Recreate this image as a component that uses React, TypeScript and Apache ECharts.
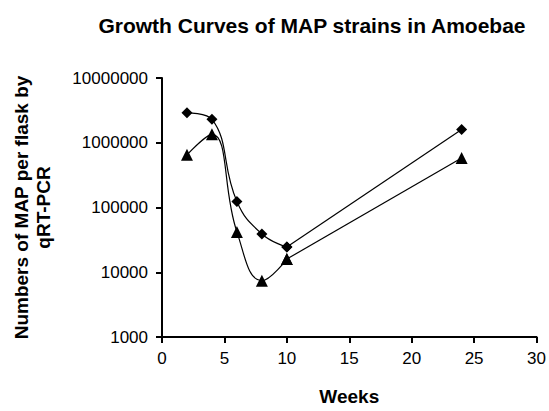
import React, { useEffect, useRef } from "react";
import * as echarts from "echarts";

const weeks = [2, 4, 6, 8, 10, 24];
const diamondSeries = [2900000, 2300000, 124000, 39000, 24500, 1600000];
const triangleSeries = [650000, 1350000, 42000, 7400, 16000, 580000];
const title = "Growth Curves of MAP strains in Amoebae";
const yName = "Numbers of MAP per flask by\nqRT-PCR";
const xName = "Weeks";
// the smoothed part of each curve ends at this index; the rest is a straight line
const smoothEnd = 4;

const FONT = "'Liberation Sans', Arial, sans-serif";

export default function App() {
  const ref = useRef<HTMLDivElement>(null);
  useEffect(() => {
    if (!ref.current) return;
    const chart = echarts.init(ref.current, null, { renderer: "svg" });
    const mk = (vals: number[]) => weeks.map((w, i) => [w, vals[i]]);
    const pair = (vals: number[], symbol: string, size: number) => {
      const d = mk(vals);
      return [
        {
          type: "line",
          data: d.slice(0, smoothEnd + 1),
          smooth: 0.45,
          smoothConstraint: false,
          symbol,
          symbolSize: size,
          itemStyle: { color: "#000" },
          lineStyle: { color: "#000", width: 1.2 },
          z: 3,
        },
        {
          type: "line",
          data: d.slice(smoothEnd),
          smooth: false,
          symbol,
          symbolSize: size,
          itemStyle: { color: "#000" },
          lineStyle: { color: "#000", width: 1.2 },
          z: 2,
        },
      ];
    };
    chart.setOption({
      animation: false,
      backgroundColor: "#fff",
      title: {
        text: title,
        left: 307,
        textAlign: "center",
        top: 10,
        textStyle: { fontFamily: FONT, fontWeight: "bold", fontSize: 21, color: "#000" },
      },
      grid: { left: 162, right: 11, top: 78, bottom: 70, containLabel: false },
      xAxis: {
        type: "value",
        min: 0,
        max: 30,
        interval: 5,
        name: xName,
        nameLocation: "middle",
        nameGap: 50,
        nameTextStyle: { fontFamily: FONT, fontWeight: "bold", fontSize: 19, color: "#000" },
        axisLine: { lineStyle: { color: "#000", width: 2 } },
        axisTick: { show: true, length: 6, lineStyle: { color: "#000", width: 2 }, inside: false },
        axisLabel: { fontFamily: FONT, fontSize: 17, color: "#000", margin: 13 },
        splitLine: { show: false },
      },
      yAxis: {
        type: "log",
        logBase: 10,
        min: 1000,
        max: 10000000,
        name: yName,
        nameLocation: "middle",
        nameGap: 108,
        nameTextStyle: { fontFamily: FONT, fontWeight: "bold", fontSize: 19, color: "#000", lineHeight: 22 },
        axisLine: { show: true, lineStyle: { color: "#000", width: 2 } },
        axisTick: { show: true, length: 6, lineStyle: { color: "#000", width: 2 } },
        axisLabel: {
          fontFamily: FONT,
          fontSize: 17,
          color: "#000",
          margin: 14,
          formatter: (v: number) => String(Math.round(v)),
        },
        splitLine: { show: false },
        minorTick: { show: false },
      },
      series: [...pair(diamondSeries, "diamond", 11), ...pair(triangleSeries, "triangle", 12)],
    });
    return () => chart.dispose();
  }, []);
  return <div ref={ref} style={{ width: 549, height: 411, position: "absolute", left: 0, top: 0 }} />;
}
